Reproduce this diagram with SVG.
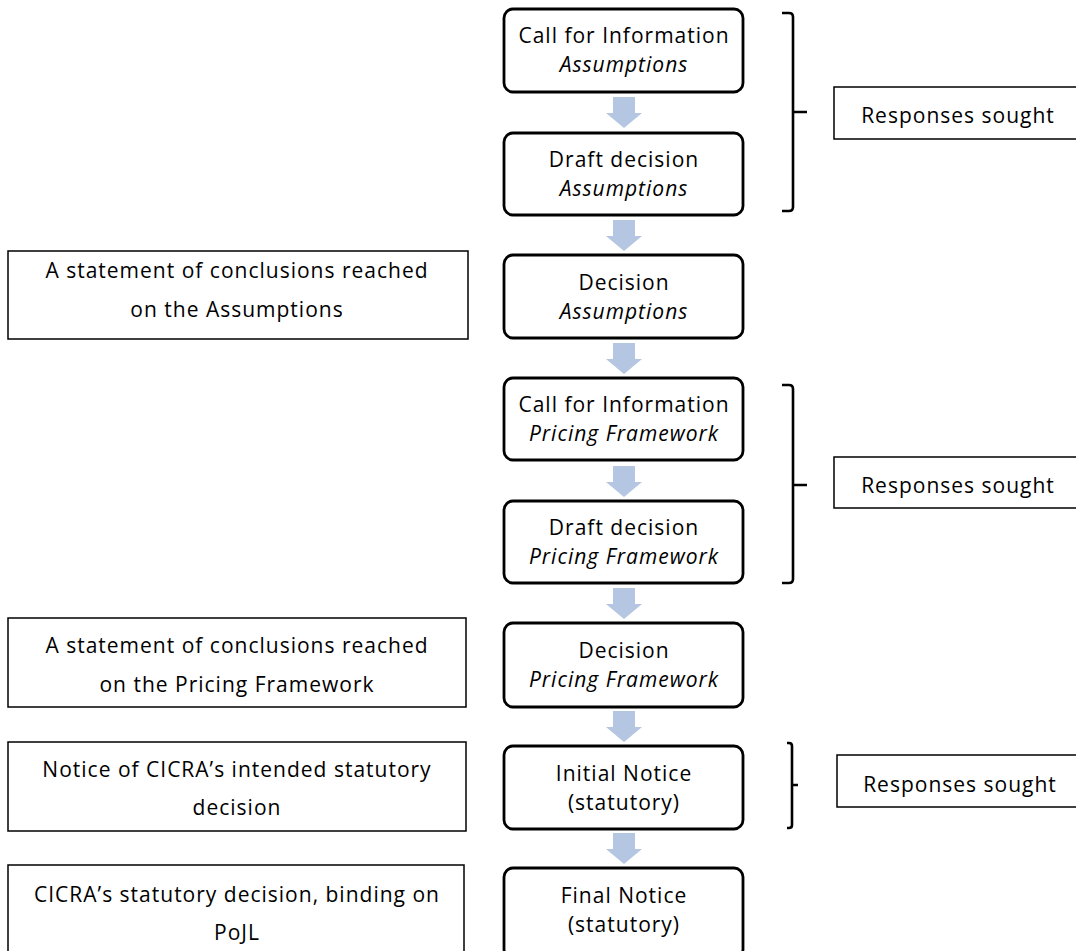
<svg xmlns="http://www.w3.org/2000/svg" width="1076" height="951" viewBox="0 0 1076 951">
<style>
  text { font-family: "Open Sans", "Liberation Sans", sans-serif; font-size: 21px; letter-spacing: 1px; fill: #000; text-anchor: middle; }
  .it { font-style: italic; }
  .node { fill: #fff; stroke: #000; stroke-width: 2.8; }
  .note { fill: #fff; stroke: #000; stroke-width: 1.5; }
  .brace { fill: none; stroke: #000; stroke-width: 2.6; stroke-linejoin: round; }
  .arrow { fill: #B4C6E2; }
</style>
<defs>
  <path id="dn" d="M-11,0 H11 V16 H18 L0,31 L-18,16 H-11 Z"/>
</defs>
<rect width="1076" height="951" fill="#fff"/>

<g id="connectors">
  <use href="#dn" class="arrow" x="624" y="97"/>
  <use href="#dn" class="arrow" x="624" y="220"/>
  <use href="#dn" class="arrow" x="624" y="343"/>
  <use href="#dn" class="arrow" x="624" y="466"/>
  <use href="#dn" class="arrow" x="624" y="588"/>
  <use href="#dn" class="arrow" x="624" y="711"/>
  <use href="#dn" class="arrow" x="624" y="833"/>
  <path class="brace" d="M782,13 H789 Q793,13 793,17 V112 H807 M793,112 V207 Q793,211 789,211 H782"/>
  <path class="brace" d="M782,385 H789 Q793,385 793,389 V485 H807 M793,485 V579 Q793,583 789,583 H782"/>
  <path class="brace" d="M787,743 H789 Q792,743 792,746 V785 H798 M792,785 V825 Q792,828 789,828 H787"/>
</g>

<g id="n1"><rect class="node" x="504" y="9" width="239" height="83" rx="9"/>
  <text x="624" y="43">Call for Information</text><text class="it" x="624" y="72">Assumptions</text></g>
<g id="n2"><rect class="node" x="504" y="133" width="239" height="82" rx="9"/>
  <text x="624" y="167">Draft decision</text><text class="it" x="624" y="196">Assumptions</text></g>
<g id="n3"><rect class="node" x="504" y="255" width="239" height="83" rx="9"/>
  <text x="624" y="290">Decision</text><text class="it" x="624" y="319">Assumptions</text></g>
<g id="n4"><rect class="node" x="504" y="378" width="239" height="82" rx="9"/>
  <text x="624" y="412">Call for Information</text><text class="it" x="624" y="441">Pricing Framework</text></g>
<g id="n5"><rect class="node" x="504" y="501" width="239" height="82" rx="9"/>
  <text x="624" y="535">Draft decision</text><text class="it" x="624" y="564">Pricing Framework</text></g>
<g id="n6"><rect class="node" x="504" y="623" width="239" height="84" rx="9"/>
  <text x="624" y="658">Decision</text><text class="it" x="624" y="687">Pricing Framework</text></g>
<g id="n7"><rect class="node" x="504" y="746" width="239" height="83" rx="9"/>
  <text x="624" y="781">Initial Notice</text><text x="624" y="810">(statutory)</text></g>
<g id="n8"><rect class="node" x="504" y="868" width="239" height="90" rx="9"/>
  <text x="624" y="903">Final Notice</text><text x="624" y="932">(statutory)</text></g>

<g id="r1"><rect class="note" x="834" y="87" width="250" height="52"/>
  <text x="958" y="123">Responses sought</text></g>
<g id="r2"><rect class="note" x="834" y="457" width="250" height="51"/>
  <text x="958" y="493">Responses sought</text></g>
<g id="r3"><rect class="note" x="837" y="755" width="250" height="52"/>
  <text x="960" y="792">Responses sought</text></g>

<g id="s1"><rect class="note" x="8" y="251" width="460" height="88"/>
  <text x="237" y="278">A statement of conclusions reached</text><text x="237" y="317">on the Assumptions</text></g>
<g id="s2"><rect class="note" x="8" y="618" width="458" height="89"/>
  <text x="237" y="653">A statement of conclusions reached</text><text x="237" y="692">on the Pricing Framework</text></g>
<g id="s3"><rect class="note" x="8" y="742" width="458" height="89"/>
  <text x="237" y="777">Notice of CICRA’s intended statutory</text><text x="237" y="815">decision</text></g>
<g id="s4"><rect class="note" x="8" y="865" width="456" height="95"/>
  <text x="237" y="902">CICRA’s statutory decision, binding on</text><text x="237" y="940">PoJL</text></g>
</svg>
